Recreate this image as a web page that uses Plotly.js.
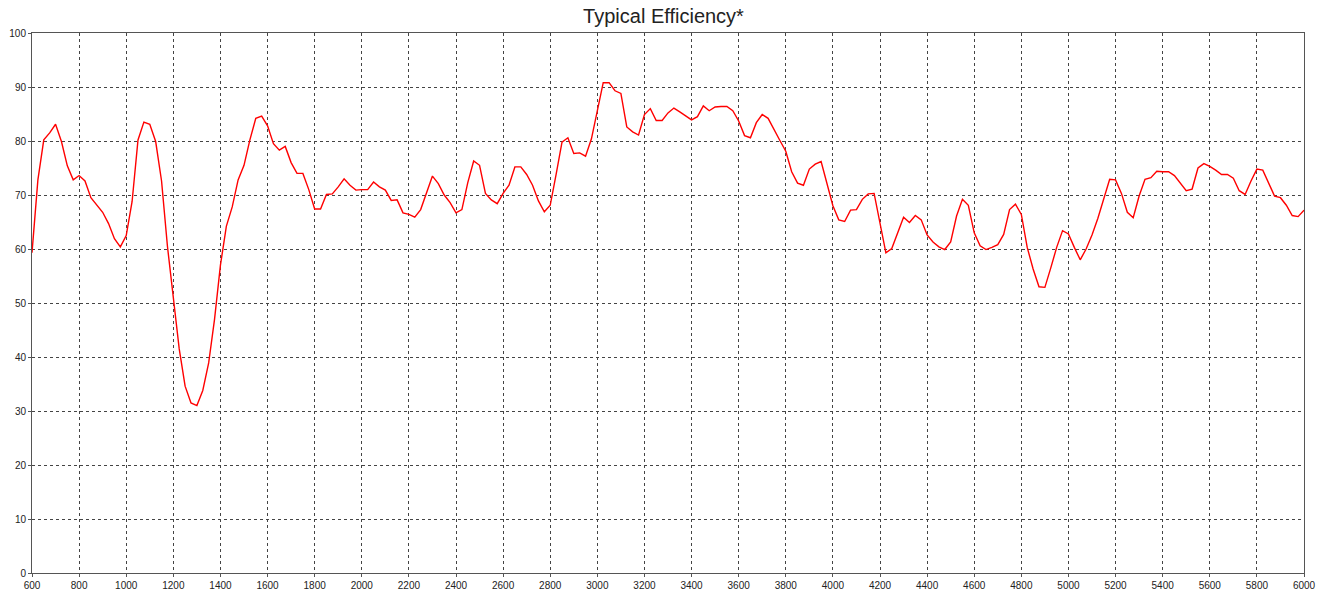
<!DOCTYPE html>
<html>
<head>
<meta charset="utf-8">
<script src="https://cdn.plot.ly/plotly-3.0.1.min.js"></script>
<style>html,body{margin:0;padding:0;background:#fff;}#chart{width:1327px;height:591px;}</style>
</head>
<body>
<div id="chart"></div>
<script>
const chartTitle = "Typical Efficiency*";
const xTickValues = [600,800,1000,1200,1400,1600,1800,2000,2200,2400,2600,2800,3000,3200,3400,3600,3800,4000,4200,4400,4600,4800,5000,5200,5400,5600,5800,6000];
const yTickValues = [0,10,20,30,40,50,60,70,80,90,100];
const wavelength = [
 600,625,650,675,700,725,750,775,800,825,850,875,900,925,950,975,
 1000,1025,1050,1075,1100,1125,1150,1175,1200,1225,1250,1275,1300,1325,1350,1375,
 1400,1425,1450,1475,1500,1525,1550,1575,1600,1625,1650,1675,1700,1725,1750,1775,
 1800,1825,1850,1875,1900,1925,1950,1975,2000,2025,2050,2075,2100,2125,2150,2175,
 2200,2225,2250,2275,2300,2325,2350,2375,2400,2425,2450,2475,2500,2525,2550,2575,
 2600,2625,2650,2675,2700,2725,2750,2775,2800,2825,2850,2875,2900,2925,2950,2975,
 3000,3025,3050,3075,3100,3125,3150,3175,3200,3225,3250,3275,3300,3325,3350,3375,
 3400,3425,3450,3475,3500,3525,3550,3575,3600,3625,3650,3675,3700,3725,3750,3775,
 3800,3825,3850,3875,3900,3925,3950,3975,4000,4025,4050,4075,4100,4125,4150,4175,
 4200,4225,4250,4275,4300,4325,4350,4375,4400,4425,4450,4475,4500,4525,4550,4575,
 4600,4625,4650,4675,4700,4725,4750,4775,4800,4825,4850,4875,4900,4925,4950,4975,
 5000,5025,5050,5075,5100,5125,5150,5175,5200,5225,5250,5275,5300,5325,5350,5375,
 5400,5425,5450,5475,5500,5525,5550,5575,5600,5625,5650,5675,5700,5725,5750,5775,
 5800,5825,5850,5875,5900,5925,5950,5975,6000
];
const efficiency = [
 59.3,72.8,80.2,81.5,83.1,79.9,75.4,72.8,73.6,72.6,69.5,68.2,66.8,64.7,61.9,60.4,
 62.5,68.8,80.2,83.5,83.1,79.9,72.6,60.5,50.5,41.5,34.6,31.5,31.0,33.8,38.9,47.0,
 57.0,64.2,67.8,72.8,75.5,80.2,84.2,84.6,82.8,79.5,78.3,79.0,76.0,74.0,74.0,71.0,
 67.4,67.4,70.1,70.2,71.5,73.0,71.8,70.9,71.0,71.0,72.4,71.5,70.9,69.0,69.1,66.7,
 66.4,65.9,67.3,70.4,73.5,72.1,70.0,68.6,66.7,67.3,72.3,76.3,75.5,70.3,69.1,68.4,
 70.3,71.8,75.2,75.2,73.8,71.8,68.9,66.9,68.1,73.8,79.8,80.6,77.7,77.8,77.2,80.4,
 85.9,90.8,90.8,89.3,88.8,82.6,81.7,81.1,84.9,86.0,83.8,83.8,85.2,86.1,85.4,84.6,
 83.9,84.5,86.5,85.6,86.3,86.4,86.4,85.6,83.7,81.0,80.6,83.4,84.9,84.2,82.0,80.1,
 78.1,74.3,72.2,71.8,74.8,75.7,76.2,72.3,68.0,65.4,65.1,67.2,67.3,69.2,70.2,70.3,
 64.9,59.3,60.1,63.0,65.9,64.9,66.2,65.4,62.6,61.3,60.4,59.9,61.3,66.1,69.2,68.1,
 63.0,60.6,59.9,60.3,60.8,62.7,67.3,68.3,66.4,60.3,56.3,53.0,52.9,56.5,60.3,63.4,
 62.8,60.3,58.0,60.0,62.6,65.7,69.1,72.9,72.8,70.3,66.8,65.8,69.8,72.9,73.2,74.4,
 74.3,74.3,73.6,72.2,70.8,71.1,75.0,75.8,75.3,74.6,73.8,73.8,73.1,70.8,70.1,72.6,
 74.8,74.6,72.3,69.8,69.5,68.1,66.2,66.0,67.2
];

const trace = {
  x: wavelength, y: efficiency, type: 'scatter', mode: 'lines',
  line: {color: '#ff0000', width: 1.4}, hoverinfo: 'x+y'
};
const axisCommon = {
  showline: true, mirror: true, linecolor: '#555555', linewidth: 1,
  showgrid: true, gridcolor: '#444444', griddash: 'dot', gridwidth: 1,
  zeroline: false, ticks: 'outside', ticklen: 3, tickcolor: '#555555',
  tickfont: {family: 'Liberation Sans, Arial, sans-serif', size: 10, color: '#222222'}
};
const layout = {
  width: 1327, height: 591,
  margin: {l: 32, r: 23, t: 33, b: 18, pad: 0},
  paper_bgcolor: '#ffffff', plot_bgcolor: '#ffffff',
  showlegend: false,
  title: {text: chartTitle, x: 0.5, xanchor: 'center', y: 0.985, yanchor: 'top',
          font: {family: 'Liberation Sans, Arial, sans-serif', size: 20, color: '#222222'}},
  xaxis: Object.assign({}, axisCommon, {range: [600, 6000], tickmode: 'array', tickvals: xTickValues, ticktext: xTickValues.map(String), ticklabelstandoff: 0}),
  yaxis: Object.assign({}, axisCommon, {range: [0, 100], tickmode: 'array', tickvals: yTickValues, ticktext: yTickValues.map(String)})
};
Plotly.newPlot('chart', [trace], layout, {displayModeBar: false, staticPlot: true});
</script>
</body>
</html>
